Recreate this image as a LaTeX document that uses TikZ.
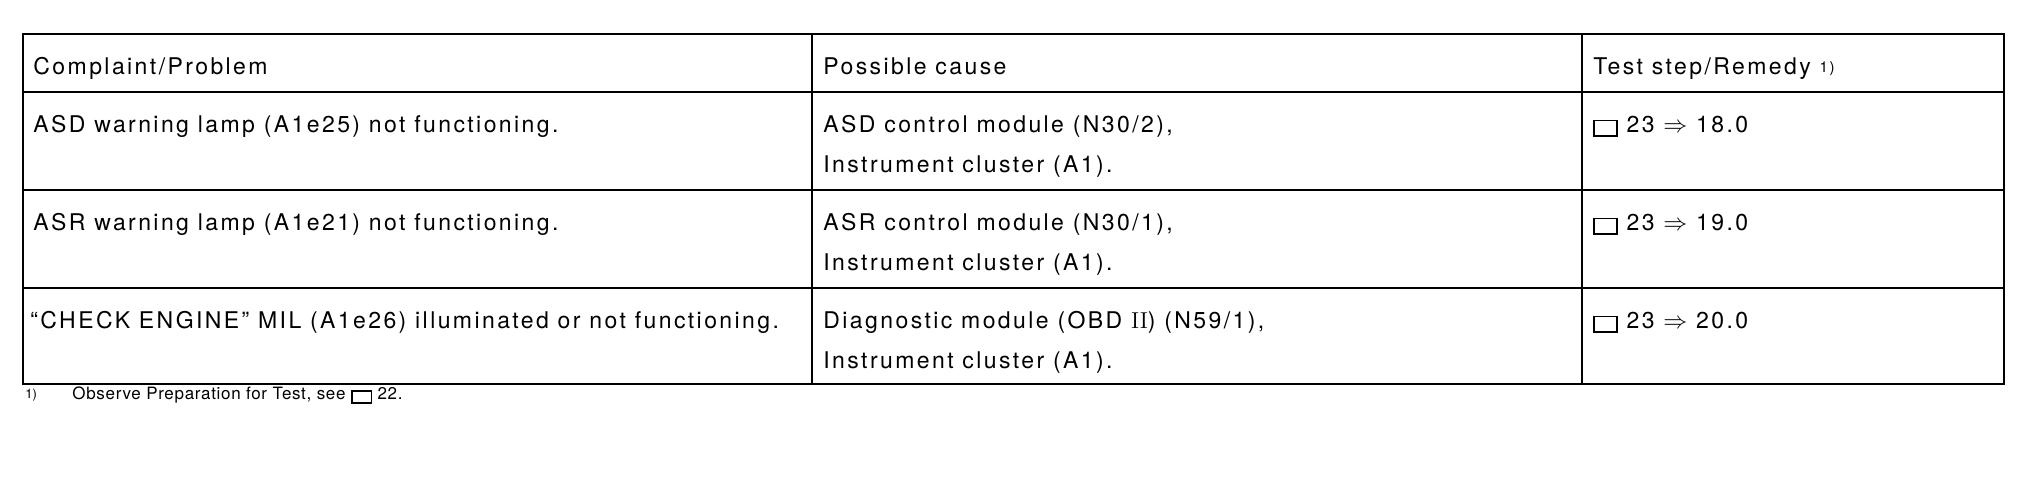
\documentclass[tikz,border=0pt]{standalone}
\usepackage{fontspec}
\setsansfont{TeX Gyre Heros}
\newfontfamily\tabfont[LetterSpace=10.5]{TeX Gyre Heros}
\newfontfamily\notefont[LetterSpace=4]{TeX Gyre Heros}
\newcommand{\tstbox}[2]{\raisebox{-1pt}{\setlength{\fboxsep}{0pt}\setlength{\fboxrule}{0.8pt}\fbox{\rule{0pt}{#2}\hspace{#1}}}}
\newcommand{\fnmark}{\raisebox{1pt}{\fontsize{7.5}{7.5}\selectfont 1)}}
\begin{document}
\begin{tikzpicture}[x=0.5pt, y=-0.5pt,
		cell/.style={anchor=base west, inner sep=0pt, font=\tabfont\fontsize{11.5}{20}\selectfont},
		note/.style={anchor=base west, inner sep=0pt, font=\notefont\fontsize{8.5}{10}\selectfont},
		rule/.style={line width=1.4pt}]
				\useasboundingbox (0,0) rectangle (2028,480);
				
				% Grid
				\draw [rule] (23,34) rectangle (2004,384);
				\foreach \y in {92,190,288} {
					\draw [rule] (23,\y) -- (2004,\y);
				}
				\foreach \x in {812,1582} {
					\draw [rule] (\x,34) -- (\x,384);
				}
				
				% Header
				\node[cell] (hd1) at (33,75) {Complaint/Problem};
				\node[cell] (hd2) at (823,75) {Possible cause};
				\node[cell] (hd3) at (1593,75) {Test step/Remedy \fnmark};
				
				% Rows
				\node[cell] (pr1) at (33,133) {ASD warning lamp (A1e25) not functioning.};
				\node[cell] (ca1) at (823,133) {ASD control module (N30/2),};
				\node[cell] (ic1) at (823,173) {Instrument cluster (A1).};
				\node[cell] (ts1) at (1593,133) {\tstbox{10.6pt}{6.8pt} 23 $\Rightarrow$ 18.0};
				
				\node[cell] (pr2) at (33,231) {ASR warning lamp (A1e21) not functioning.};
				\node[cell] (ca2) at (823,231) {ASR control module (N30/1),};
				\node[cell] (ic2) at (823,271) {Instrument cluster (A1).};
				\node[cell] (ts2) at (1593,231) {\tstbox{10.6pt}{6.8pt} 23 $\Rightarrow$ 19.0};
				
				\node[cell] (pr3) at (30,329) {“CHECK ENGINE” MIL (A1e26) illuminated or not functioning.};
				\node[cell] (ca3) at (823,329) {Diagnostic module (OBD {\rmfamily II}) (N59/1),};
				\node[cell] (ic3) at (823,369) {Instrument cluster (A1).};
				\node[cell] (ts3) at (1593,329) {\tstbox{10.6pt}{6.8pt} 23 $\Rightarrow$ 20.0};
				
				% Footnote
				\node[note, font=\sffamily\fontsize{6.5}{6.5}\selectfont] (fnm) at (25,399) {1)};
				\node[note] (fn) at (72,400) {Observe Preparation for Test, see \tstbox{9pt}{5pt} 22.};
			\end{tikzpicture}
\end{document}
